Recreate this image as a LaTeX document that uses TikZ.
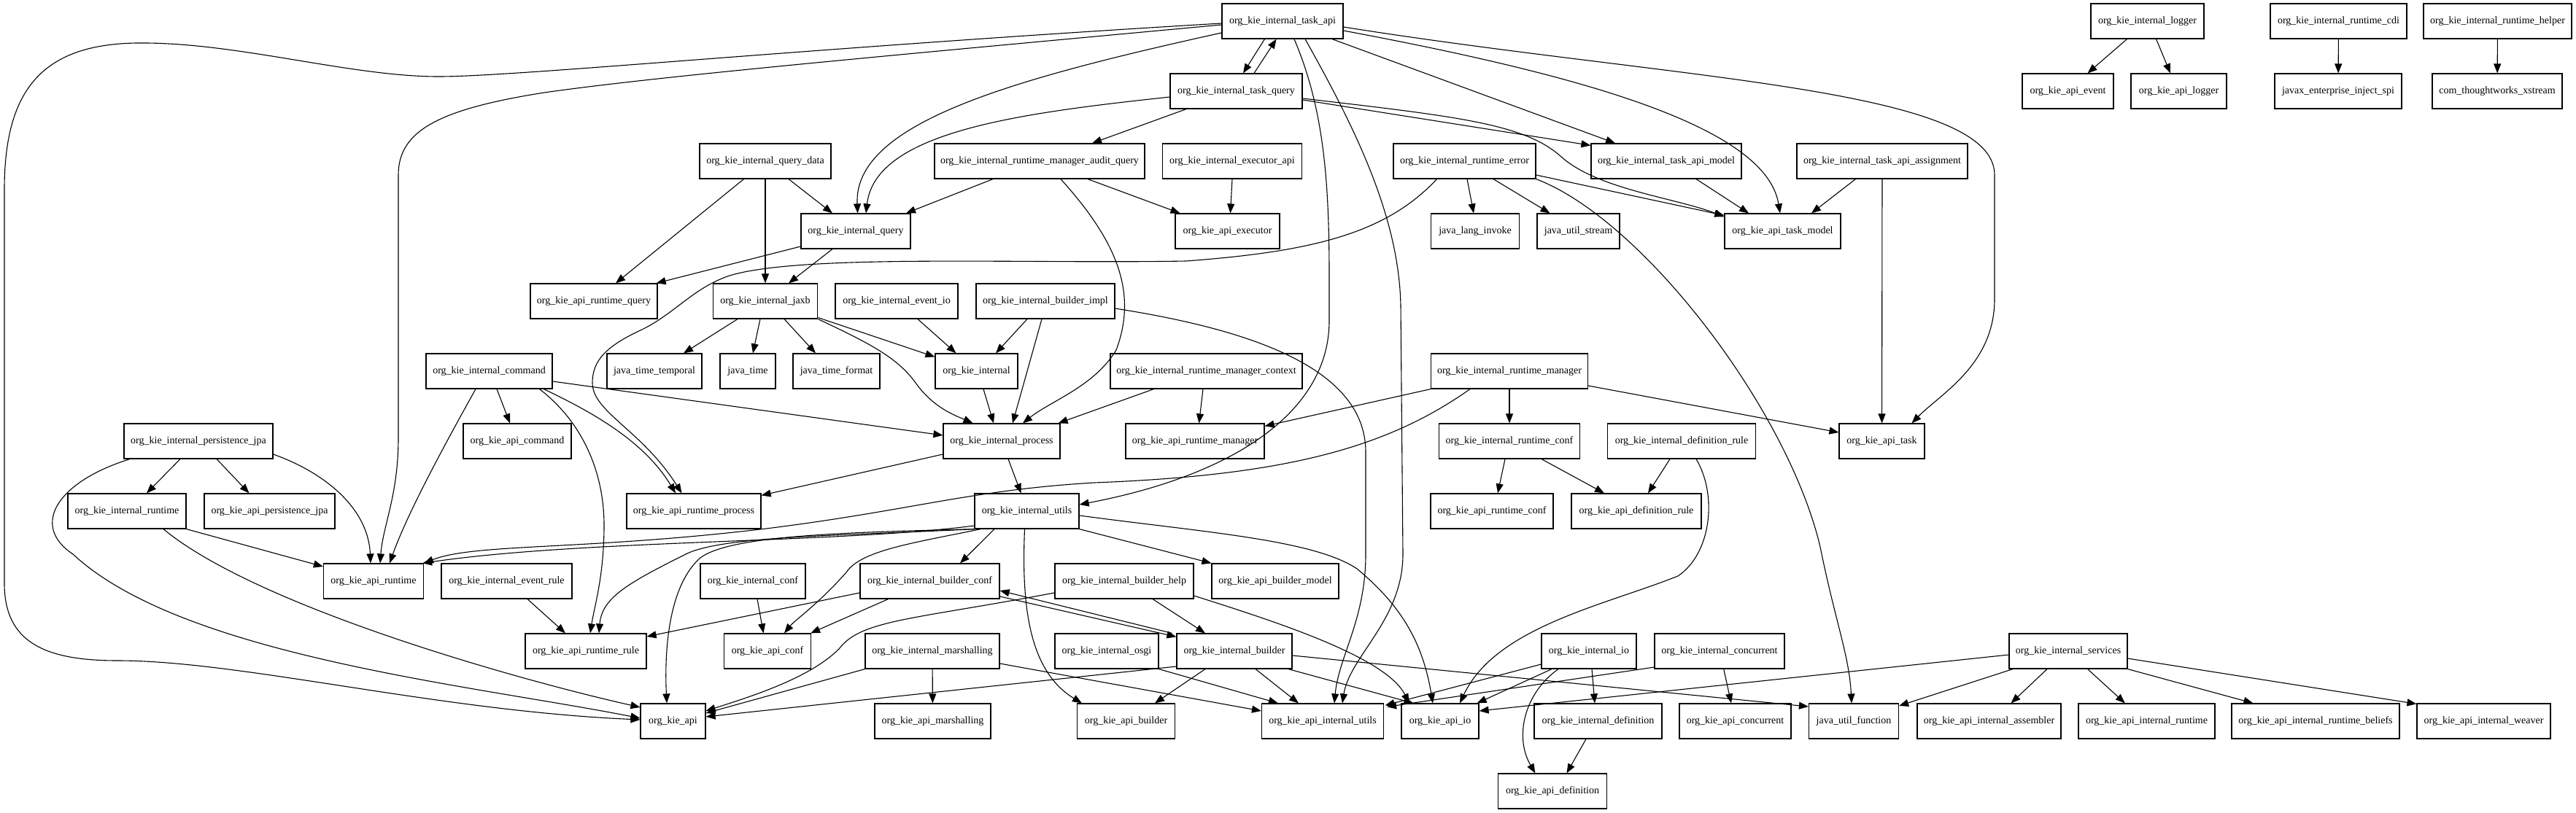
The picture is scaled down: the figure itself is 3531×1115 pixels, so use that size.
\documentclass[tikz,border=0pt]{standalone}
\usepackage{fontspec}
\setmainfont{Liberation Serif}
\usetikzlibrary{arrows.meta}
\begin{document}
\begin{tikzpicture}[x=1pt,y=-1pt,
  nd/.style={draw, line width=1.2pt, rectangle, minimum height=48pt, inner sep=0pt, font=\fontsize{14pt}{16pt}\selectfont},
  e/.style={line width=1.1pt, -{Triangle[length=13pt,width=10pt]}}]
\fill[white] (0,0) rectangle (3531,1115);
\useasboundingbox (0,0) rectangle (3531,1115);
% row A
\node[nd,minimum width=166pt] (taskapi) at (1758,29) {org\_kie\_internal\_task\_api};
\node[nd,minimum width=155pt] (logger) at (2943.5,29) {org\_kie\_internal\_logger};
\node[nd,minimum width=187pt] (rtcdi) at (3205.5,29) {org\_kie\_internal\_runtime\_cdi};
\node[nd,minimum width=203pt] (rthelper) at (3423.5,29) {org\_kie\_internal\_runtime\_helper};
% row B
\node[nd,minimum width=181pt] (taskquery) at (1694.5,125) {org\_kie\_internal\_task\_query};
\node[nd,minimum width=125pt] (apievent) at (2834.5,125) {org\_kie\_api\_event};
\node[nd,minimum width=131pt] (apilogger) at (2986.5,125) {org\_kie\_api\_logger};
\node[nd,minimum width=174pt] (javax) at (3205,125) {javax\_enterprise\_inject\_spi};
\node[nd,minimum width=178pt] (xstream) at (3423,125) {com\_thoughtworks\_xstream};
% row C
\node[nd,minimum width=180pt] (querydata) at (1049,221) {org\_kie\_internal\_query\_data};
\node[nd,minimum width=288pt] (auditquery) at (1425,221) {org\_kie\_internal\_runtime\_manager\_audit\_query};
\node[nd,minimum width=191pt] (executorapi) at (1689,221) {org\_kie\_internal\_executor\_api};
\node[nd,minimum width=195pt] (rterror) at (2007.5,221) {org\_kie\_internal\_runtime\_error};
\node[nd,minimum width=206pt] (taskapimodel) at (2284,221) {org\_kie\_internal\_task\_api\_model};
\node[nd,minimum width=234pt] (assignment) at (2580,221) {org\_kie\_internal\_task\_api\_assignment};
% row D
\node[nd,minimum width=150pt] (query) at (1173,317) {org\_kie\_internal\_query};
\node[nd,minimum width=143pt] (apiexecutor) at (1682.5,317) {org\_kie\_api\_executor};
\node[nd,minimum width=121pt] (invoke) at (2022,317) {java\_lang\_invoke};
\node[nd,minimum width=113pt] (stream) at (2163.5,317) {java\_util\_stream};
\node[nd,minimum width=159pt] (apitaskmodel) at (2443.5,317) {org\_kie\_api\_task\_model};
% row E
\node[nd,minimum width=174pt] (apirtquery) at (814,413) {org\_kie\_api\_runtime\_query};
\node[nd,minimum width=143.5pt] (jaxb) at (1049,413) {org\_kie\_internal\_jaxb};
\node[nd,minimum width=168pt] (eventio) at (1229,413) {org\_kie\_internal\_event\_io};
\node[nd,minimum width=190pt] (builderimpl) at (1433,413) {org\_kie\_internal\_builder\_impl};
% row F
\node[nd,minimum width=173pt] (command) at (670.5,509) {org\_kie\_internal\_command};
\node[nd,minimum width=130pt] (temporal) at (897,509) {java\_time\_temporal};
\node[nd,minimum width=76pt] (jtime) at (1025,509) {java\_time};
\node[nd,minimum width=119pt] (jformat) at (1146.5,509) {java\_time\_format};
\node[nd,minimum width=113pt] (internal) at (1338.5,509) {org\_kie\_internal};
\node[nd,minimum width=263pt] (rmcontext) at (1653.5,509) {org\_kie\_internal\_runtime\_manager\_context};
\node[nd,minimum width=215pt] (rmanager) at (2069,509) {org\_kie\_internal\_runtime\_manager};
% row G
\node[nd,minimum width=204pt] (persjpa) at (272,605) {org\_kie\_internal\_persistence\_jpa};
\node[nd,minimum width=148pt] (apicommand) at (709,605) {org\_kie\_api\_command};
\node[nd,minimum width=160pt] (process) at (1373,605) {org\_kie\_internal\_process};
\node[nd,minimum width=190pt] (apirtmanager) at (1638,605) {org\_kie\_api\_runtime\_manager};
\node[nd,minimum width=193pt] (rtconf) at (2069,605) {org\_kie\_internal\_runtime\_conf};
\node[nd,minimum width=203pt] (defrule) at (2305,605) {org\_kie\_internal\_definition\_rule};
\node[nd,minimum width=117pt] (apitask) at (2579.5,605) {org\_kie\_api\_task};
% row H
\node[nd,minimum width=162pt] (irtime) at (174,701) {org\_kie\_internal\_runtime};
\node[nd,minimum width=179pt] (apipersjpa) at (369.5,701) {org\_kie\_api\_persistence\_jpa};
\node[nd,minimum width=184pt] (apirtprocess) at (951,701) {org\_kie\_api\_runtime\_process};
\node[nd,minimum width=143pt] (utils) at (1407.5,701) {org\_kie\_internal\_utils};
\node[nd,minimum width=168pt] (apirtconf) at (2045,701) {org\_kie\_api\_runtime\_conf};
\node[nd,minimum width=178pt] (apidefrule) at (2243,701) {org\_kie\_api\_definition\_rule};
% row I
\node[nd,minimum width=137pt] (apirt) at (512,797) {org\_kie\_api\_runtime};
\node[nd,minimum width=179pt] (eventrule) at (694.5,797) {org\_kie\_internal\_event\_rule};
\node[nd,minimum width=144pt] (iconf) at (1032,797) {org\_kie\_internal\_conf};
\node[nd,minimum width=191pt] (builderconf) at (1274.5,797) {org\_kie\_internal\_builder\_conf};
\node[nd,minimum width=190pt] (builderhelp) at (1541,797) {org\_kie\_internal\_builder\_help};
\node[nd,minimum width=174pt] (apibuildermodel) at (1748,797) {org\_kie\_api\_builder\_model};
% row J
\node[nd,minimum width=166pt] (apirtrule) at (803,893) {org\_kie\_api\_runtime\_rule};
\node[nd,minimum width=119pt] (apiconf) at (1052,893) {org\_kie\_api\_conf};
\node[nd,minimum width=184pt] (marshalling) at (1278,893) {org\_kie\_internal\_marshalling};
\node[nd,minimum width=142pt] (osgi) at (1517,893) {org\_kie\_internal\_osgi};
\node[nd,minimum width=158pt] (builder) at (1692,893) {org\_kie\_internal\_builder};
\node[nd,minimum width=130pt] (iio) at (2178,893) {org\_kie\_internal\_io};
\node[nd,minimum width=178pt] (concurrent) at (2357,893) {org\_kie\_internal\_concurrent};
\node[nd,minimum width=162pt] (services) at (2835,893) {org\_kie\_internal\_services};
% row K
\node[nd,minimum width=89pt] (api) at (922.5,989) {org\_kie\_api};
\node[nd,minimum width=159pt] (apimarshalling) at (1278.5,989) {org\_kie\_api\_marshalling};
\node[nd,minimum width=134pt] (apibuilder) at (1543.5,989) {org\_kie\_api\_builder};
\node[nd,minimum width=167pt] (apiinternalutils) at (1813,989) {org\_kie\_api\_internal\_utils};
\node[nd,minimum width=106pt] (apiio) at (1974,989) {org\_kie\_api\_io};
\node[nd,minimum width=175pt] (idefinition) at (2190.5,989) {org\_kie\_internal\_definition};
\node[nd,minimum width=153pt] (apiconcurrent) at (2378.5,989) {org\_kie\_api\_concurrent};
\node[nd,minimum width=123pt] (function) at (2541,989) {java\_util\_function};
\node[nd,minimum width=197pt] (assembler) at (2726.5,989) {org\_kie\_api\_internal\_assembler};
\node[nd,minimum width=187pt] (apiinternalruntime) at (2942.5,989) {org\_kie\_api\_internal\_runtime};
\node[nd,minimum width=230pt] (beliefs) at (3174,989) {org\_kie\_api\_internal\_runtime\_beliefs};
\node[nd,minimum width=183pt] (weaver) at (3404.5,989) {org\_kie\_api\_internal\_weaver};
% row L
\node[nd,minimum width=149pt] (apidefinition) at (2128,1085) {org\_kie\_api\_definition};

% ---------- edges ----------
\draw[e] ([xshift=-28pt]logger.south) -- ([xshift=27pt]apievent.north);
\draw[e] ([xshift=12pt]logger.south) -- ([xshift=-11.5pt]apilogger.north);
\draw[e] (rtcdi) -- (javax);
\draw[e] (rthelper) -- (xstream);
\draw[e] ([xshift=-24.5pt]taskapi.south) -- ([xshift=9.5pt]taskquery.north);
\draw[e] ([xshift=24.5pt]taskquery.north) -- ([xshift=-8.5pt]taskapi.south);
\draw[e] ([yshift=-16pt]taskapi.west) .. controls (1380,110) and (1170,170) .. ([xshift=2.6pt]query.north);
\draw[e] ([yshift=-8pt]taskquery.west) .. controls (1400,155) and (1200,180) .. ([xshift=14pt]query.north);
\draw[e] ([xshift=-68.5pt]taskquery.south) -- ([xshift=72pt]auditquery.north);
\draw[e] ([yshift=-3pt]taskapi.west) .. controls (1100,66) and (700,106) .. (597,105) .. controls (480,104) and (330,60) .. (200,59) .. controls (60,57) and (6,120) .. (6,260) -- (6,800) .. controls (6,880) and (60,906) .. (161,906) .. controls (330,906) and (600,975) .. ([yshift=2pt]api.west);
\draw[e] ([yshift=-5pt]taskapi.west) .. controls (1200,78) and (900,105) .. (746,127) .. controls (600,150) and (546,180) .. (546,240) -- (546,600) .. controls (546,680) and (525,720) .. ([xshift=9pt]apirt.north);
\draw[e] ([xshift=16pt]taskapi.south) .. controls (1815,150) and (1822,250) .. (1822,380) -- (1822,440) .. controls (1822,560) and (1700,650) .. ([yshift=9pt]utils.east);
\draw[e] ([xshift=31pt]taskapi.south) .. controls (1860,180) and (1918,300) .. (1920,420) -- (1923,760) .. controls (1923,850) and (1850,900) .. ([xshift=27pt]apiinternalutils.north);
\draw[e] ([xshift=68pt]taskapi.south) -- ([xshift=-70pt]taskapimodel.north);
\draw[e] ([yshift=-13pt]taskapi.east) .. controls (2150,100) and (2420,170) .. ([xshift=-3.5pt]apitaskmodel.north);
\draw[e] ([yshift=-8pt]taskapi.east) .. controls (2300,110) and (2734,120) .. (2734,240) -- (2734,410) .. controls (2734,500) and (2660,540) .. ([xshift=41pt]apitask.north);
\draw[e] ([yshift=-12pt]taskquery.east) -- ([yshift=-3pt]taskapimodel.north west);
\draw[e] ([yshift=-10pt]taskquery.east) .. controls (2000,160) and (2090,170) .. (2140,215) .. controls (2190,260) and (2300,272) .. ([yshift=-5pt]apitaskmodel.north west);
\draw[e] ([xshift=32pt]querydata.south) -- ([xshift=-32pt]query.north);
\draw[e] (querydata) -- (jaxb);
\draw[e] ([xshift=-29.5pt]querydata.south) -- ([xshift=30pt]apirtquery.north);
\draw[e] ([xshift=-64pt]auditquery.south) -- ([xshift=69pt]query.north);
\draw[e] ([xshift=66pt]auditquery.south) -- ([xshift=-65pt]apiexecutor.north);
\draw[e] ([xshift=29pt]auditquery.south) .. controls (1530,330) and (1560,400) .. (1530,480) .. controls (1500,530) and (1440,550) .. ([xshift=29pt]process.north);
\draw[e] (executorapi.south) -- ([xshift=4pt]apiexecutor.north);
\draw[e] ([xshift=3.5pt]rterror.south) -- ([xshift=-2pt]invoke.north);
\draw[e] ([xshift=39.5pt]rterror.south) -- ([xshift=-39pt]stream.north);
\draw[e] ([yshift=-19pt]rterror.east) -- ([yshift=-3pt]apitaskmodel.north west);
\draw[e] (rterror.south east) .. controls (2250,300) and (2450,560) .. (2495,750) .. controls (2515,850) and (2535,900) .. ([xshift=-3pt]function.north);
\draw[e] ([xshift=-38pt]rterror.south) .. controls (1900,320) and (1800,345) .. (1626,358) .. controls (1400,362) and (1100,348) .. (1000,378) .. controls (950,395) and (925,430) .. (880,452) .. controls (830,475) and (812,495) .. (812,525) .. controls (812,565) and (880,590) .. ([xshift=-16.5pt]apirtprocess.north);
\draw[e] ([xshift=41pt]taskapimodel.south) -- ([xshift=-46.5pt]apitaskmodel.north);
\draw[e] ([xshift=-36.5pt]assignment.south) -- ([xshift=39.5pt]apitaskmodel.north);
\draw[e] (assignment) -- (apitask);
\draw[e] ([yshift=-21pt]query.west) -- ([xshift=-2pt]apirtquery.north east);
\draw[e] ([xshift=-32pt]query.south) -- ([xshift=32pt]jaxb.north);
\draw[e] ([xshift=-38pt]jaxb.south) -- ([xshift=40pt]temporal.north);
\draw[e] ([xshift=-7pt]jaxb.south) -- ([xshift=7pt]jtime.north);
\draw[e] ([xshift=26pt]jaxb.south) -- ([xshift=-28.5pt]jformat.north);
\draw[e] ([yshift=2pt]jaxb.south east) -- ([yshift=-5pt]internal.north west);
\draw[e] (jaxb.south east) .. controls (1190,470) and (1230,490) .. (1255,525) .. controls (1280,560) and (1310,570) .. ([xshift=-39.5pt]process.north);
\draw[e] ([xshift=29pt]eventio.south) -- ([xshift=-28pt]internal.north);
\draw[e] ([xshift=-25pt]builderimpl.south) -- ([xshift=26.5pt]internal.north);
\draw[e] ([xshift=-5pt]builderimpl.south) -- ([xshift=15pt]process.north);
\draw[e] ([yshift=-10pt]builderimpl.east) .. controls (1700,450) and (1872,500) .. (1872,620) -- (1872,760) .. controls (1872,850) and (1835,900) .. ([xshift=16pt]apiinternalutils.north);
\draw[e] ([xshift=9.5pt]internal.south) -- ([xshift=-11pt]process.north);
\draw[e] ([xshift=10.5pt]command.south) -- ([xshift=-10pt]apicommand.north);
\draw[e] ([yshift=-14pt]command.east) -- ([yshift=8pt]process.west);
\draw[e] ([xshift=-18.5pt]command.south) .. controls (615,600) and (560,700) .. ([xshift=22pt]apirt.north);
\draw[e] ([xshift=75pt]command.south) .. controls (800,560) and (880,600) .. ([xshift=-25pt]apirtprocess.north);
\draw[e] ([xshift=69pt]command.south) .. controls (800,580) and (828,650) .. (828,720) .. controls (828,790) and (815,830) .. ([xshift=6pt]apirtrule.north);
\draw[e] ([xshift=-72pt]rmcontext.south) -- ([xshift=-3pt]process.north east);
\draw[e] ([xshift=-4.5pt]rmcontext.south) -- ([xshift=5.5pt]apirtmanager.north);
\draw[e] (rmanager.south west) -- ([yshift=-4pt]apirtmanager.north east);
\draw[e] (rmanager) -- (rtconf);
\draw[e] ([yshift=-20pt]rmanager.east) -- ([yshift=12pt]apitask.west);
\draw[e] ([xshift=-54pt]rmanager.south) .. controls (1900,615) and (1760,652) .. (1500,662) .. controls (1330,672) and (1250,700) .. (1050,725) .. controls (800,755) and (650,745) .. (apirt.north east);
\draw[e] ([yshift=-20pt]utils.west) .. controls (1150,745) and (800,740) .. ([xshift=-2pt]apirt.north east);
\draw[e] (utils.south west) .. controls (1150,735) and (990,735) .. (940,760) .. controls (860,800) and (825,820) .. ([xshift=18pt]apirtrule.north);
\draw[e] ([xshift=4pt]utils.south west) .. controls (1150,730) and (1000,735) .. (960,765) .. controls (920,800) and (910,880) .. ([xshift=-8.5pt]api.north);
\draw[e] ([xshift=9pt]utils.south west) .. controls (1250,745) and (1180,755) .. (1160,785) .. controls (1120,830) and (1090,850) .. ([xshift=23pt]apiconf.north);
\draw[e] ([xshift=-44.5pt]utils.south) -- ([xshift=41.5pt]builderconf.north);
\draw[e] ([xshift=-3pt]utils.south) .. controls (1400,830) and (1410,920) .. ([xshift=7pt]apibuilder.north west);
\draw[e] (utils.south east) -- (apibuildermodel.north west);
\draw[e] ([yshift=-6pt]utils.east) .. controls (1650,730) and (1800,740) .. (1860,780) .. controls (1920,830) and (1950,880) .. ([xshift=-10pt]apiio.north);
\draw[e] ([xshift=-25pt]persjpa.south) -- ([xshift=27pt]irtime.north);
\draw[e] ([xshift=25pt]persjpa.south) -- ([xshift=-28pt]apipersjpa.north);
\draw[e] ([yshift=-18pt]persjpa.east) .. controls (450,650) and (505,700) .. ([xshift=-4pt]apirt.north);
\draw[e] ([xshift=-94pt]persjpa.south) .. controls (80,660) and (40,720) .. (100,760) .. controls (250,900) and (650,940) .. ([yshift=4pt]api.west);
\draw[e] (irtime.south east) -- ([yshift=20pt]apirt.west);
\draw[e] ([xshift=50pt]irtime.south) .. controls (350,830) and (700,930) .. ([yshift=19pt]api.west);
\draw[e] ([yshift=-18pt]process.west) -- ([yshift=-3pt]apirtprocess.north east);
\draw[e] ([xshift=9pt]process.south) -- ([xshift=-8pt]utils.north);
\draw[e] ([xshift=-6pt]rtconf.south) -- ([xshift=8pt]apirtconf.north);
\draw[e] ([xshift=44pt]rtconf.south) -- ([xshift=-44pt]apidefrule.north);
\draw[e] ([xshift=-16pt]defrule.south) -- ([xshift=16pt]apidefrule.north);
\draw[e] ([xshift=20pt]defrule.south) .. controls (2355,680) and (2345,760) .. (2300,790) .. controls (2200,830) and (2050,860) .. ([xshift=27pt]apiio.north);
\draw[e] ([xshift=28.5pt]eventrule.south) -- ([xshift=-28pt]apirtrule.north);
\draw[e] ([xshift=6pt]iconf.south) -- ([xshift=-5.5pt]apiconf.north);
\draw[e] ([yshift=-16pt]builderconf.west) -- ([yshift=20pt]apirtrule.east);
\draw[e] ([xshift=-57pt]builderconf.south) -- ([xshift=-1pt]apiconf.north east);
\draw[e] ([yshift=-21pt]builderconf.east) -- ([yshift=-5pt]builder.north west);
\draw[e] ([xshift=-6pt]builder.north west) -- ([yshift=-13pt]builderconf.east);
\draw[e] ([yshift=-16pt]builderhelp.west) .. controls (1250,850) and (1180,850) .. (1150,890) .. controls (1110,930) and (1030,955) .. ([yshift=14pt]api.east);
\draw[e] ([xshift=39pt]builderhelp.south) -- ([xshift=-40pt]builder.north);
\draw[e] ([yshift=-20pt]builderhelp.east) .. controls (1740,850) and (1900,900) .. ([xshift=11pt]apiio.north west);
\draw[e] (marshalling.south west) -- ([yshift=11pt]api.east);
\draw[e] (marshalling) -- (apimarshalling);
\draw[e] ([yshift=-17pt]marshalling.east) -- ([yshift=14pt]apiinternalutils.west);
\draw[e] (osgi.south east) -- ([xshift=23pt]apiinternalutils.north west);
\draw[e] ([yshift=-21pt]builder.west) -- ([yshift=6pt]api.east);
\draw[e] ([xshift=-40pt]builder.south) -- ([xshift=39.5pt]apibuilder.north);
\draw[e] ([xshift=29pt]builder.south) -- ([xshift=-33pt]apiinternalutils.north);
\draw[e] ([yshift=-6pt]builder.east) -- ([yshift=20pt]function.west);
\draw[e] ([xshift=74pt]builder.south) -- ([xshift=17pt]apiio.north west);
\draw[e] ([yshift=-18pt]iio.west) -- ([xshift=1.5pt,yshift=-3pt]apiinternalutils.north east);
\draw[e] ([xshift=-51pt]iio.south) -- ([xshift=-3pt]apiio.north east);
\draw[e] ([xshift=4pt]iio.south) -- ([xshift=-4.5pt]idefinition.north);
\draw[e] ([xshift=-42pt]iio.south) .. controls (2090,950) and (2075,1010) .. ([xshift=-23.6pt]apidefinition.north);
\draw[e] ([xshift=-16.5pt]idefinition.south) -- ([xshift=19.5pt]apidefinition.north);
\draw[e] ([yshift=-22pt]concurrent.west) -- ([xshift=4pt,yshift=-5pt]apiinternalutils.north east);
\draw[e] ([xshift=5.7pt]concurrent.south) -- ([xshift=-5.5pt]apiconcurrent.north);
\draw[e] ([yshift=-5pt]services.west) -- ([yshift=14pt]apiio.east);
\draw[e] ([xshift=-76pt]services.south) -- ([yshift=21pt]function.east);
\draw[e] ([xshift=-29pt]services.south) -- ([xshift=30pt]assembler.north);
\draw[e] ([xshift=26.6pt]services.south) -- ([xshift=-29.7pt]apiinternalruntime.north);
\draw[e] (services.south east) -- ([xshift=30pt]beliefs.north west);
\draw[e] ([yshift=-10pt]services.east) -- ([yshift=-1pt]weaver.north west);
\end{tikzpicture}
\end{document}
